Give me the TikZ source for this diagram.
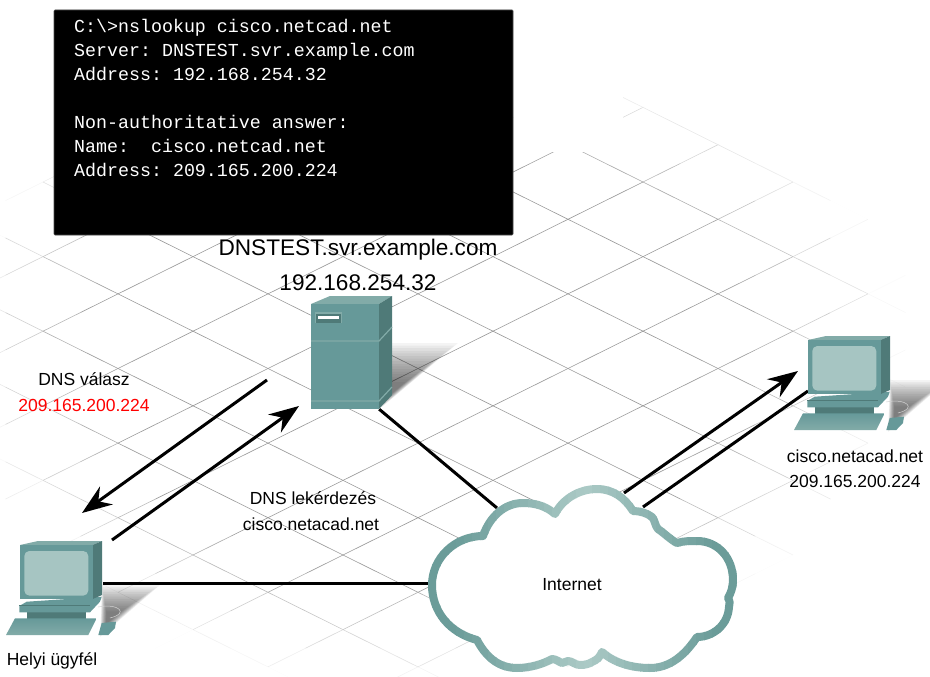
\documentclass[tikz,border=0pt]{standalone}
\usepackage{fontspec}
\setmainfont{Liberation Sans}
\newfontfamily\termfont{Liberation Mono}
\usepackage{tikz}
\usetikzlibrary{arrows.meta}

\definecolor{tealfront}{HTML}{669999}
\definecolor{tealtop}{HTML}{82ABA8}
\definecolor{tealside}{HTML}{4F7A78}
\definecolor{tealscreen}{HTML}{A6C5C2}
\definecolor{cloudlight}{HTML}{ABCAC6}
\definecolor{clouddark}{HTML}{6B9C99}

\newcommand{\cloudpath}{(477,640) .. controls (450,633) and (432,612) .. (432,585)
  .. controls (432,558) and (455,536) .. (483,536)
  .. controls (490,516) and (505,503) .. (523,503)
  .. controls (537,503) and (547,507) .. (555,514)
  .. controls (562,500) and (578,489) .. (597,489)
  .. controls (613,489) and (625,498) .. (633,511)
  .. controls (640,511) and (647,513) .. (652,517)
  .. controls (655,520) and (655,526) .. (658,529)
  .. controls (664,533) and (671,540) .. (677,543)
  .. controls (683,541) and (690,541) .. (697,541)
  .. controls (718,541) and (733,558) .. (733,580)
  .. controls (733,587) and (731,593) .. (728,598)
  .. controls (730,601) and (730,604) .. (729,607)
  .. controls (728,625) and (713,637) .. (697,637)
  .. controls (685,655) and (670,668) .. (650,668)
  .. controls (630,668) and (613,662) .. (602,652)
  .. controls (600,657) and (597,660) .. (592,662)
  .. controls (589,664) and (585,665) .. (580,665)
  .. controls (575,665) and (572,661) .. (568,661)
  .. controls (566,661) and (564,663) .. (562,663)
  .. controls (559,662) and (556,659) .. (552,659)
  .. controls (543,664) and (530,668) .. (517,668)
  .. controls (497,668) and (485,655) .. (477,640) -- cycle}

\newcommand{\gridseg}[4]{%
  \pgfmathsetmacro{\gridx}{(#1+#3)/2}
  \pgfmathsetmacro{\gridy}{(#2+#4)/2}
  \pgfmathsetmacro{\gridink}{min(40,120*(1-sqrt(((\gridx-400)/(\gridx<400?450:500))^2+((\gridy-330)/(\gridy<330?280:360))^2)))}
  \pgfmathparse{\gridink>0 ? 1 : 0}
  \ifnum\pgfmathresult=1
    \draw[gridline,draw=black!\gridink] (#1,#2) -- (#3,#4);
  \fi}

%blurred shadow: the same triangle again and again, smaller each time
\newcommand{\softdrop}[2]{%
  \foreach \s in {1,0.95,...,0.2}
    \fill[black,opacity=0.045,shift={#1},scale=\s] #2;}

\tikzset{
  gridline/.style={line width=0.6pt},
  link/.style={line width=3pt},
  flow/.style={line width=3pt,->},
  label/.style={font=\fontsize{17.5}{20}\selectfont},
  biglabel/.style={font=\fontsize{22.6}{25}\selectfont},
  iconbox/.style={minimum width=#1,minimum height=84pt,inner sep=0pt},
  pcshadow/.pic={
    \softdrop{(88,75)}{(-6,-35) -- (52,-35) -- (-8,17) -- cycle}
    \draw[white!65!gray,line width=0.5pt] (78,62) .. controls (98,58) and (110,68) .. (90,73);
  },
  pc/.pic={
    %stand
    \fill[tealside] (6.7,67) rectangle (66,74);
    \fill[tealfront] (6.7,56.7) -- (81.7,51.7) -- (80,56.7) -- (70,67.3) -- (-0.7,67.3) -- (-0.7,61) -- cycle;
    \fill[tealside] (-0.7,60) -- (70,60) -- (70,61) -- (-0.7,61) -- cycle;
    %monitor
    \fill[tealtop] (0,0) -- (18,-4) -- (82,-4) -- (72.7,0) -- cycle;
    \fill[tealside] (72.7,0) -- (82,-4) -- (82,50) -- (72.7,54) -- cycle;
    \fill[tealfront] (0,0) rectangle (72.7,54);
    \fill[tealscreen,rounded corners=5pt] (4.3,6) rectangle (68.3,50.6);
    %keyboard
    \shade[top color=tealfront,bottom color=tealtop]
      (-5,73.3) -- (76.7,73.3) -- (68.3,90) -- (-14,90) -- cycle;
    %mouse
    \fill[tealfront] (81.7,78) -- (96,76.7) -- (95,83) -- (88.3,90) -- (78.3,90) -- cycle;
  }
}

\begin{document}
\begin{tikzpicture}[x=1pt,y=-1pt,>={Stealth[length=30pt,width=22pt,inset=10pt]}]
\useasboundingbox (0,0) rectangle (930,677);
%floor grid
\begin{scope}
  \clip (0,677) -- (0,100) -- (513,100) -- (513,152) -- (623,152) -- (623,96)
        -- (930,250) -- (930,677) -- cycle;
  \foreach \i in {-10,...,8}
    \foreach \s in {-28,...,28}
    {
      \pgfmathsetmacro{\xa}{643+75*\i+37.5*\s}
      \pgfmathsetmacro{\xb}{\xa+37.5}
      \pgfmathsetmacro{\ya}{182-37.3*\i+18.65*\s}
      \pgfmathsetmacro{\yb}{\ya+18.65}
      \gridseg{\xa}{\ya}{\xb}{\yb}
      \pgfmathsetmacro{\ya}{182+37.3*\i-18.65*\s}
      \pgfmathsetmacro{\yb}{\ya-18.65}
      \gridseg{\xa}{\ya}{\xb}{\yb}
    }
\end{scope}

%console
\node[fill=black,draw=black!70,line width=0.7pt,rounded corners=1pt,minimum width=459pt,minimum height=225pt,inner sep=0pt]
  (console) at (283.5,122.5) {};
\node[anchor=north west,inner sep=0pt,align=left,text=white,font=\termfont\fontsize{18.3}{24}\selectfont\frenchspacing]
  (consoletext) at (74,19) {C:\textbackslash>nslookup cisco.netcad.net\\
  Server: DNSTEST.svr.example.com\\
  Address: 192.168.254.32\\
  ~\\
  Non-authoritative answer:\\
  Name:~~cisco.netcad.net\\
  Address: 209.165.200.224};

%icon boxes
\node[iconbox=68pt,minimum height=113pt] (server) at (345,352.5) {};
\node[iconbox=97pt] (client) at (54.5,583) {};
\node[iconbox=97pt] (target) at (842.5,378) {};
\node[minimum width=300pt,minimum height=180pt,inner sep=0pt] (internet) at (580,583) {};

%link ends
\coordinate (cloudnw) at (497,508);
\coordinate (cloudne) at (643,507);
\coordinate (targetw) at (808,391);
\coordinate (querytail) at (112,540);
\coordinate (querytip) at (299,406);
\coordinate (replytail) at (267,380);
\coordinate (replytip) at (82,513);
\coordinate (outtail) at (624,493);
\coordinate (outtip) at (798,371);

%shadows
\softdrop{(388,395)}{(4,-52) -- (70,-52) -- (-6,12) -- cycle}
\pic at (20,545) {pcshadow};
\pic at (808,340) {pcshadow};

%links
\draw[link] (server.south east) -- (cloudnw);
\draw[link] (client.east) -- (internet.west);
\draw[link] (cloudne) -- (targetw);

%cloud
\fill[white] \cloudpath;
\foreach \x in {424,432,...,736}
{
  \pgfmathsetmacro{\cloudmix}{min(100,100*abs(\x+4-585)/130)}
  \begin{scope}
    \clip (\x,470) rectangle (\x+8.5,677);
    \draw[draw=clouddark!\cloudmix!cloudlight,line width=8pt,line join=round] \cloudpath;
  \end{scope}
}
\node[label] (internettext) at (572,585) {Internet};

%server
\fill[tealtop] (311,304) -- (330,296) -- (392,296) -- (379,304) -- cycle;
\fill[tealside] (379,304) -- (392,296) -- (392,395) -- (379,409) -- cycle;
\fill[tealfront] (311,304) rectangle (379,409);
\draw[tealtop,line width=1.2pt] (311,341) -- (379,341) -- (392,327);
\draw[tealtop,line width=1.2pt] (311,401) -- (379,401) -- (392,387);
\fill[tealtop] (315,312) rectangle (342,323);
\fill[tealside] (316,314) rectangle (341,323);
\fill[white] (318,316) rectangle (339,319);

%clients
\pic at (20,545) {pc};
\pic at (808,340) {pc};

%flows
\draw[flow] (querytail) -- (querytip);
\draw[flow] (replytail) -- (replytip);
\draw[flow] (outtail) -- (outtip);

%labels
\node[biglabel] (servername) at (358,250) {DNSTEST.svr.example.com};
\node[biglabel] (serverip) at (358,283) {192.168.254.32};
\node[label] (replytext) at (84,379) {DNS válasz};
\node[label,text=red] (replyip) at (84,405) {209.165.200.224};
\node[label] (querytext) at (313,498) {DNS lekérdezés};
\node[label] (queryname) at (311,524) {cisco.netacad.net};
\node[label] (clienttext) at (52,661) {Helyi ügyfél};
\node[label] (targetname) at (855,456) {cisco.netacad.net};
\node[label] (targetip) at (855,481) {209.165.200.224};
\end{tikzpicture}
\end{document}
